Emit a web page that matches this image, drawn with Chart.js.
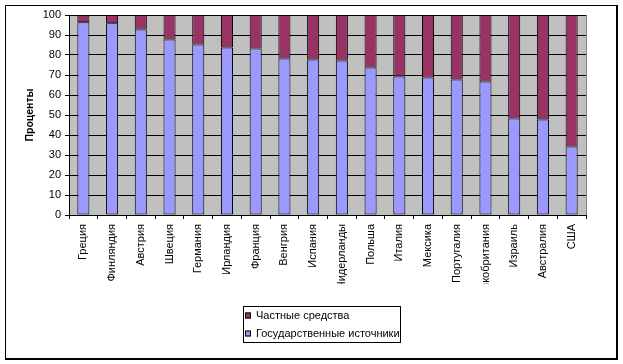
<!DOCTYPE html>
<html>
<head>
<meta charset="utf-8">
<script src="https://cdn.jsdelivr.net/npm/chart.js@4/dist/chart.umd.min.js"></script>
<style>
html,body{margin:0;padding:0;background:#fff;}
canvas{display:block;}
</style>
</head>
<body>
<canvas id="c" width="623" height="364"></canvas>
<script>
const countries = ['Греция','Финляндия','Австрия','Швеция','Германия','Ирландия','Франция','Венгрия','Испания','Нидерланды','Польша','Италия','Мексика','Португалия','Великобритания','Израиль','Австралия','США'];
const publicSources = [96.4, 95.9, 92.8, 87.8, 85.3, 83.8, 83.3, 78.3, 77.8, 77.3, 73.8, 69.3, 68.8, 67.8, 66.8, 48.3, 47.8, 34.3];
const privateFunds = [3.6, 4.1, 7.2, 12.2, 14.7, 16.2, 16.7, 21.7, 22.2, 22.7, 26.2, 30.7, 31.2, 32.2, 33.2, 51.7, 52.2, 65.7];
const seriesNames = ['Государственные источники', 'Частные средства'];
const yTicks = [0,10,20,30,40,50,60,70,80,90,100];
const axisTitle = 'Проценты';

const FONT = 'Arial, "Liberation Sans", sans-serif';

const decor = {
  id: 'decor',
  beforeDraw(chart) {
    const ctx = chart.ctx, a = chart.chartArea;
    ctx.save();
    ctx.fillStyle = '#fff';
    ctx.fillRect(0, 0, chart.width, chart.height);
    ctx.fillStyle = '#C0C0C0';
    ctx.fillRect(a.left, a.top, a.right - a.left, a.bottom - a.top);
    ctx.restore();
  },
  afterLayout(chart) {
    const s = chart.scales.x;
    if (s && !s._clipWrapped) {
      const orig = s.drawLabels;
      s.drawLabels = function (area) {
        const ctx = chart.ctx;
        ctx.save();
        ctx.beginPath();
        ctx.rect(0, this.top, chart.width, 284 - this.top);
        ctx.clip();
        orig.call(this, area);
        ctx.restore();
      };
      s._clipWrapped = true;
    }
  },
  afterDraw(chart) {
    const ctx = chart.ctx, a = chart.chartArea;
    ctx.save();
    // plot area right border
    ctx.strokeStyle = '#808080';
    ctx.lineWidth = 1;
    ctx.beginPath();
    ctx.moveTo(Math.round(a.right) + 0.5, a.top);
    ctx.lineTo(Math.round(a.right) + 0.5, a.bottom);
    ctx.stroke();
    // outer border
    ctx.fillStyle = '#000';
    ctx.fillRect(5, 5, 612, 1);
    ctx.fillRect(5, 5, 1, 354);
    ctx.fillRect(616, 5, 2, 355);
    ctx.fillRect(5, 358, 613, 2);
    // legend
    const lx = 243, ly = 306, lw = 158, lh = 37;
    ctx.fillStyle = '#fff';
    ctx.fillRect(lx, ly, lw, lh);
    ctx.strokeStyle = '#000';
    ctx.strokeRect(lx + 0.5, ly + 0.5, lw - 1, lh - 1);
    const ds = chart.data.datasets.slice().reverse();
    ctx.font = '11px ' + FONT;
    ctx.textBaseline = 'middle';
    ctx.textAlign = 'left';
    ds.forEach((d, i) => {
      const cy = 315.5 + i * 18;
      ctx.fillStyle = d.backgroundColor;
      ctx.fillRect(245, cy - 3, 6, 6);
      ctx.strokeStyle = '#000';
      ctx.strokeRect(245.5, cy - 2.5, 5, 5);
      ctx.fillStyle = '#000';
      ctx.fillText(d.label, 256, cy + 0.5);
    });
    ctx.restore();
  }
};

new Chart(document.getElementById('c'), {
  type: 'bar',
  data: {
    labels: countries,
    datasets: [
      { label: seriesNames[0], data: publicSources, backgroundColor: '#9999FF', borderColor: '#000', borderWidth: 1, borderSkipped: false },
      { label: seriesNames[1], data: privateFunds, backgroundColor: '#993366', borderColor: '#000', borderWidth: 1, borderSkipped: false }
    ]
  },
  options: {
    responsive: false,
    devicePixelRatio: 1,
    animation: false,
    layout: { padding: { left: 0, right: 37, top: 15, bottom: 79 } },
    plugins: { legend: { display: false }, tooltip: { enabled: false } },
    datasets: { bar: { barPercentage: 0.42, categoryPercentage: 1 } },
    scales: {
      x: {
        stacked: true,
        offset: true,
        grid: { offset: true, drawOnChartArea: false, drawTicks: true, tickLength: 4, color: '#000', lineWidth: 1 },
        border: { display: true, color: '#000', width: 1 },
        ticks: { autoSkip: false, maxRotation: 90, minRotation: 90, padding: 5, color: '#000', font: { family: FONT, size: 11 } },
        afterFit(s) { s.height = 70; }
      },
      y: {
        stacked: true,
        min: 0, max: 100,
        afterBuildTicks(s) { s.ticks = yTicks.map(v => ({ value: v })); },
        grid: { color: '#000', lineWidth: 1, tickLength: 4, drawTicks: true },
        border: { display: true, color: '#000', width: 1 },
        ticks: { padding: 4, color: '#000', font: { family: FONT, size: 11 } },
        title: { display: true, text: axisTitle, color: '#000', font: { family: FONT, size: 10.5, weight: 'bold' }, padding: { top: 24, bottom: 0 } },
        afterFit(s) { s.width = 69; }
      }
    }
  },
  plugins: [decor]
});
</script>
</body>
</html>
